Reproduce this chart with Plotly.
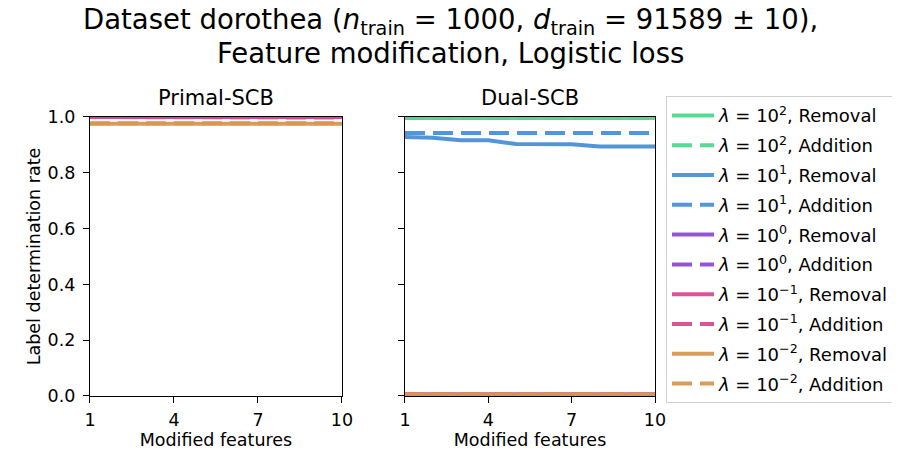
import plotly.graph_objects as go

# data
features = [1, 2, 3, 4, 5, 6, 7, 8, 9, 10]
lambda_exps = ["2", "1", "0", "\u22121", "\u22122"]
line_colors = ["#4cd98d", "#4a90d9", "#8e4ad9", "#d94a91", "#d99652"]

# Primal-SCB
primal_removal = {
    "2": [1.0] * 10,
    "1": [1.0] * 10,
    "0": [1.0] * 10,
    "\u22121": [1.0] * 10,
    "\u22122": [0.976] * 10,
}
primal_addition = {
    "2": [1.0, 1.0, 1.0, 1.0, 1.0, 1.0, 1.0, 0.997, 0.997, 0.997],
    "1": [1.0] * 10,
    "0": [1.0] * 10,
    "\u22121": [1.0] * 10,
    "\u22122": [0.978] * 10,
}

# Dual-SCB
dual_removal = {
    "2": [0.996] * 10,
    "1": [0.928, 0.926, 0.917, 0.917, 0.903, 0.903, 0.902, 0.894, 0.894, 0.894],
    "0": [0.005] * 10,
    "\u22121": [0.005] * 10,
    "\u22122": [0.005] * 10,
}
dual_addition = {
    "2": [0.996] * 10,
    "1": [0.943] * 10,
    "0": [0.005] * 10,
    "\u22121": [0.005] * 10,
    "\u22122": [0.005] * 10,
}

FONT = "DejaVu Sans"

fig = go.Figure()

for exp, col in zip(lambda_exps, line_colors):
    for kind, prim, dual, dash in [
        ("Removal", primal_removal, dual_removal, "solid"),
        ("Addition", primal_addition, dual_addition, "20px,8px"),
    ]:
        name = f"<i>\u03bb</i> = 10<sup>{exp}</sup>, {kind}"
        grp = f"{exp}-{kind}"
        fig.add_trace(go.Scatter(
            x=features, y=prim[exp], mode="lines", name=name,
            legendgroup=grp, showlegend=True,
            line=dict(color=col, width=4, dash=dash), opacity=0.95,
            xaxis="x", yaxis="y",
        ))
        fig.add_trace(go.Scatter(
            x=features, y=dual[exp], mode="lines", name=name,
            legendgroup=grp, showlegend=False,
            line=dict(color=col, width=4, dash=dash), opacity=0.95,
            xaxis="x2", yaxis="y2",
        ))

axis_common = dict(
    showline=True, linecolor="black", linewidth=1.2, mirror=True,
    ticks="outside", ticklen=6, tickcolor="black", tickwidth=1.2,
    showgrid=False, zeroline=False, automargin=False,
    tickfont=dict(family=FONT, size=17.5, color="black"),
)
yticks = [0, 0.2, 0.4, 0.6, 0.8, 1.0]
xticks = [1, 4, 7, 10]

# the page body adds 8px, so positions below are shifted by that much
fig.update_layout(
    width=900, height=450,
    margin=dict(l=0, r=0, t=0, b=0),
    plot_bgcolor="white", paper_bgcolor="white",
    font=dict(family=FONT, color="black"),
    xaxis=dict(domain=[0.0911, 0.3711], range=[1, 10], tickvals=xticks,
               ticklabelstandoff=2,
               title=dict(text="Modified features", font=dict(size=17.5), standoff=4),
               **axis_common),
    yaxis=dict(domain=[0.1378, 0.7578], range=[0, 1], tickvals=yticks,
               tickformat=".1f", ticklabelstandoff=4,
               title=dict(text="Label determination rate", font=dict(size=17.5), standoff=2),
               **axis_common),
    xaxis2=dict(domain=[0.4411, 0.7189], range=[1, 10], tickvals=xticks, anchor="y2",
                ticklabelstandoff=2,
                title=dict(text="Modified features", font=dict(size=17.5), standoff=4),
                **axis_common),
    yaxis2=dict(domain=[0.1378, 0.7578], range=[0, 1], tickvals=yticks,
                showticklabels=False, anchor="x2", **axis_common),
    legend=dict(
        x=0.7311, y=0.804, xanchor="left", yanchor="top",
        bordercolor="#d0d0d0", borderwidth=1, bgcolor="white",
        font=dict(family=FONT, size=18), tracegroupgap=3.4, itemwidth=42,
    ),
    showlegend=True,
)

title_lines = [
    "Dataset dorothea (<i>n</i><sub>train</sub> = 1000, <i>d</i><sub>train</sub> = 91589 \u00b1 10),",
    "Feature modification, Logistic loss",
]
for line, yc in zip(title_lines, [0.969, 0.899]):
    fig.add_annotation(
        text=line, xref="paper", yref="paper", x=0.492, y=yc,
        xanchor="center", yanchor="middle", showarrow=False,
        font=dict(family=FONT, size=27.5),
    )
for title, xc in [("Primal-SCB", 0.2311), ("Dual-SCB", 0.58)]:
    fig.add_annotation(
        text=title, xref="paper", yref="paper", x=xc, y=0.799,
        xanchor="center", yanchor="middle", showarrow=False,
        font=dict(family=FONT, size=21),
    )

fig.write_html("out.html")
